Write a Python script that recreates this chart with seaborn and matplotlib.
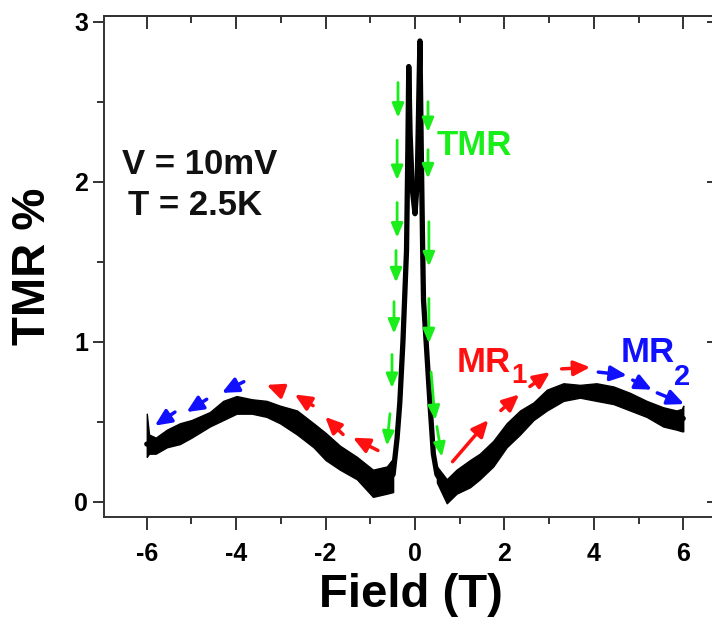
import numpy as np
import pandas as pd
import seaborn as sns
import matplotlib.pyplot as plt
from matplotlib.ticker import MultipleLocator

# TMR loop (field in T, TMR in %)
field = [-6.0, -5.8, -5.55, -5.26, -5.0, -4.59, -4.29, -3.99, -3.65, -3.32, -3.02,
         -2.64, -2.27, -2.0, -1.68, -1.3, -0.94, -0.63, -0.49, -0.40, -0.34, -0.27,
         -0.19, -0.16, -0.14, -0.11, -0.06, 0.0, 0.05, 0.09, 0.11, 0.14, 0.17, 0.19,
         0.26, 0.34, 0.41, 0.49, 0.71, 0.93, 1.23, 1.45, 1.75, 2.05, 2.35, 2.65,
         2.95, 3.32, 3.69, 4.06, 4.44, 4.81, 5.18, 5.55, 5.85, 6.0]
tmr = [0.36, 0.35, 0.40, 0.42, 0.45, 0.51, 0.57, 0.61, 0.60, 0.58, 0.55,
       0.50, 0.42, 0.35, 0.28, 0.21, 0.12, 0.13, 0.17, 0.40, 0.62, 1.0,
       1.57, 2.2, 2.72, 2.3, 1.95, 1.8, 2.0, 2.6, 2.88, 2.2, 1.6, 1.26,
       0.95, 0.59, 0.30, 0.17, 0.08, 0.12, 0.17, 0.22, 0.30, 0.41, 0.50, 0.56,
       0.63, 0.68, 0.69, 0.68, 0.66, 0.62, 0.58, 0.53, 0.51, 0.52]

# noise band (lower / upper edge) on both shoulders
left_x = [-6.0, -5.95, -5.8, -5.55, -5.26, -5.0, -4.59, -4.29, -3.99, -3.65, -3.32,
          -3.02, -2.64, -2.27, -2.0, -1.68, -1.3, -0.94, -0.63, -0.49]
left_lo = [0.28, 0.30, 0.30, 0.34, 0.36, 0.40, 0.47, 0.51, 0.55, 0.55, 0.53,
           0.49, 0.42, 0.34, 0.26, 0.20, 0.14, 0.03, 0.05, 0.06]
left_hi = [0.55, 0.42, 0.40, 0.45, 0.49, 0.51, 0.56, 0.63, 0.66, 0.64, 0.63,
           0.60, 0.57, 0.49, 0.43, 0.35, 0.28, 0.20, 0.22, 0.27]
right_x = [0.49, 0.71, 0.93, 1.23, 1.45, 1.75, 2.05, 2.35, 2.65, 2.95, 3.32,
           3.69, 4.06, 4.44, 4.81, 5.18, 5.55, 5.85, 5.97, 6.0]
right_lo = [0.12, -0.01, 0.05, 0.09, 0.14, 0.22, 0.34, 0.42, 0.51, 0.57, 0.63,
            0.65, 0.63, 0.61, 0.57, 0.53, 0.47, 0.45, 0.44, 0.44]
right_hi = [0.22, 0.14, 0.20, 0.26, 0.30, 0.38, 0.49, 0.57, 0.62, 0.70, 0.74,
            0.73, 0.74, 0.72, 0.68, 0.63, 0.59, 0.57, 0.58, 0.60]

# sweep arrows: (tail x, tail y, head x, head y)
green_arrows = [(-0.38, 2.62, -0.38, 2.40), (-0.40, 2.26, -0.40, 2.01),
                (-0.40, 1.87, -0.40, 1.65), (-0.425, 1.57, -0.425, 1.37),
                (-0.47, 1.25, -0.47, 1.05), (-0.515, 0.92, -0.515, 0.71),
                (-0.56, 0.55, -0.63, 0.35),
                (0.29, 2.50, 0.29, 2.31), (0.29, 2.20, 0.29, 2.02),
                (0.31, 1.75, 0.31, 1.47), (0.31, 1.27, 0.31, 0.99),
                (0.36, 0.81, 0.45, 0.51), (0.49, 0.47, 0.60, 0.28)]
red_arrows = [(-2.95, 0.69, -3.32, 0.73), (-2.28, 0.60, -2.69, 0.67),
              (-1.61, 0.42, -2.01, 0.53), (-0.83, 0.32, -1.39, 0.40),
              (0.84, 0.25, 1.64, 0.51), (1.92, 0.57, 2.33, 0.67),
              (2.57, 0.72, 3.02, 0.81), (3.28, 0.83, 3.92, 0.84)]
blue_arrows = [(-5.37, 0.56, -5.82, 0.475), (-4.66, 0.64, -5.11, 0.56),
               (-3.83, 0.75, -4.32, 0.68),
               (4.10, 0.81, 4.74, 0.79), (4.87, 0.76, 5.30, 0.70),
               (5.42, 0.68, 6.02, 0.61)]

x_ticks = [-6, -4, -2, 0, 2, 4, 6]
y_ticks = [0, 1, 2, 3]

sns.set_theme(style="white")
plt.rcParams['font.family'] = ['Liberation Sans', 'DejaVu Sans']
plt.rcParams['font.weight'] = 'bold'
plt.rcParams['text.color'] = 'black'
plt.rcParams['axes.labelcolor'] = 'black'
plt.rcParams['axes.unicode_minus'] = False

fig = plt.figure(figsize=(7.12, 6.2), dpi=100)
ax = fig.add_axes([103.6 / 712, 1 - 516.7 / 620, (719 - 103.6) / 712, (516.7 - 16) / 620])

ax.fill_between(left_x, left_lo, left_hi, color='black', lw=1.0)
ax.fill_between(right_x, right_lo, right_hi, color='black', lw=1.0)
df = pd.DataFrame({'Field': field, 'TMR': tmr})
sns.lineplot(data=df, x='Field', y='TMR', sort=False, color='black', lw=3.8, ax=ax)

def draw_arrows(arrows, color, lw, hw, hl):
    for x0, y0, x1, y1 in arrows:
        ax.annotate('', xy=(x1, y1), xytext=(x0, y0),
                    arrowprops=dict(arrowstyle=f'-|>,head_width={hw},head_length={hl}',
                                    color=color, lw=lw, shrinkA=0, shrinkB=0,
                                    mutation_scale=14))

draw_arrows(green_arrows, '#1aee1a', 2.0, 0.25, 0.6)
draw_arrows(red_arrows, '#ff1010', 2.5, 0.32, 0.7)
draw_arrows(blue_arrows, '#1010ff', 2.5, 0.32, 0.7)

ax.text(-6.55, 2.05, 'V = 10mV', fontsize=25, fontweight='bold', color='#111111')
ax.text(-6.42, 1.79, 'T = 2.5K', fontsize=25, fontweight='bold', color='#111111')
ax.text(0.49, 2.17, 'TMR', fontsize=25, fontweight='bold', color='#1aee1a')
ax.text(0.94, 0.81, 'MR', fontsize=25, fontweight='bold', color='#ff1010')
ax.text(2.16, 0.74, '1', fontsize=20, fontweight='bold', color='#ff1010')
ax.text(4.61, 0.87, 'MR', fontsize=25, fontweight='bold', color='#1010ff')
ax.text(5.80, 0.73, '2', fontsize=21, fontweight='bold', color='#1010ff')

ax.set_xlim(-6.966, 6.80)
ax.set_ylim(-0.094, 3.036)
ax.set_xticks(x_ticks)
ax.set_yticks(y_ticks)
ax.xaxis.set_minor_locator(MultipleLocator(1))
ax.yaxis.set_minor_locator(MultipleLocator(0.5))
ax.tick_params(axis='x', which='major', direction='out', length=9, width=1.4,
               labelsize=18, pad=9, color='#333333', labelcolor='black')
ax.tick_params(axis='x', which='minor', direction='out', length=5, width=1.4, color='#333333')
ax.tick_params(axis='y', which='major', direction='out', length=8, width=1.4,
               labelsize=18, pad=3, color='#333333', labelcolor='black')
ax.tick_params(axis='y', which='minor', direction='out', length=5, width=1.4, color='#333333')
ax.tick_params(bottom=True, left=True, which='both')

top = ax.secondary_xaxis('top')
top.set_xticks(x_ticks)
top.xaxis.set_minor_locator(MultipleLocator(1))
top.tick_params(which='major', direction='in', length=9, width=1.4, labeltop=False, color='#333333')
top.tick_params(which='minor', direction='in', length=5, width=1.4, color='#333333')
right = ax.secondary_yaxis('right')
right.set_yticks(y_ticks)
right.tick_params(direction='in', length=9, width=1.4, labelright=False, color='#333333')

for sp in list(ax.spines.values()) + [top.spines['top'], right.spines['right']]:
    sp.set_linewidth(1.4)
    sp.set_color('#333333')

ax.set_xlabel('Field (T)', fontsize=34, fontweight='bold', labelpad=5)
ax.set_ylabel('TMR %', fontsize=34, fontweight='bold', labelpad=14)

fig.savefig('out.png', dpi=100)
